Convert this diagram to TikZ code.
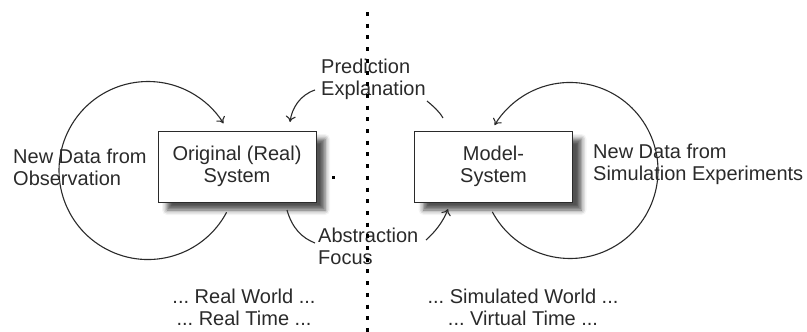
\documentclass[tikz,border=0pt]{standalone}
\usepackage{fontspec}
\setmainfont{Liberation Sans}
\frenchspacing
\usetikzlibrary{arrows.meta,shadows.blur}
\definecolor{ink}{HTML}{2A2A2A}
\tikzset{
  sysbox/.style={draw=ink, line width=1pt, fill=white, minimum width=158pt, minimum height=71pt,
    align=center, font=\fontsize{20}{22}\selectfont, text=ink,
    blur shadow={shadow xshift=9pt, shadow yshift=-8pt, shadow blur radius=5pt, shadow opacity=68}},
  lbl/.style={font=\fontsize{20}{22}\selectfont, text=ink, inner sep=0pt},
  link/.style={draw=ink, line width=1.1pt},
  tip/.style={-{To[length=6pt,width=10pt]}},
  divider/.style={draw=black, line width=3pt, dash pattern=on 4pt off 7.7pt}
}
\begin{document}
\begin{tikzpicture}[x=1pt, y=-1pt]
\useasboundingbox (0,0) rectangle (807,332);

% the two systems
\node[sysbox] (real) at (237,166.5) {Original (Real)\\System};
\node[sysbox] (model) at (493.5,166.5) {Model-\\System};

% labels
\node[lbl, anchor=west, align=left] (obs) at (13,167) {New Data from\\Observation};
\node[lbl, anchor=west, align=left] (sim) at (593,164) {New Data from\\Simulation Experiments};
\node[lbl, anchor=west, align=left] (pred) at (321,79.5) {Prediction\\Explanation};
\node[lbl, anchor=west, align=left] (abst) at (318,246) {Abstraction\\Focus};
\node[lbl, align=center] (rw) at (244,307.5) {... Real World ...\\... Real Time ...};
\node[lbl, align=center] (sw) at (523,307.5) {... Simulated World ...\\... Virtual Time ...};

% observation loop around the real system
\coordinate (rl) at ([xshift=-10.4pt,yshift=-9.8pt]real.south);
\draw[link, tip] (rl) arc[start angle=28, end angle=328, radius=89];

% experiment loop around the model system
\coordinate (ml) at ([xshift=-1.2pt,yshift=-9.3pt]model.south);
\draw[link, tip] (ml) arc[start angle=152, end angle=-149, radius=88];

% prediction / explanation: model back to reality
\coordinate (p1) at (315,90);
\coordinate (p2) at (427,101);
\draw[link, tip] (p1) .. controls (300,95) and (292,108) .. (290,122);
\draw[link] (p2) .. controls (433,106) and (439,111) .. (443,118);

% abstraction / focus: reality to model
\coordinate (a1) at (426,240);
\draw[link] (287,210) .. controls (292,228) and (302,238) .. (315,243);
\draw[link, tip] (a1) .. controls (435,232) and (443,222) .. (448,209);

% small mark
\fill[black] (331.5,175.5) rectangle (334.5,178.5);

% dividing line between real and simulated world
\coordinate (dtop) at (367,12);
\coordinate (dbot) at (367,332);
\draw[divider] (dtop) -- (dbot);
\end{tikzpicture}
\end{document}
